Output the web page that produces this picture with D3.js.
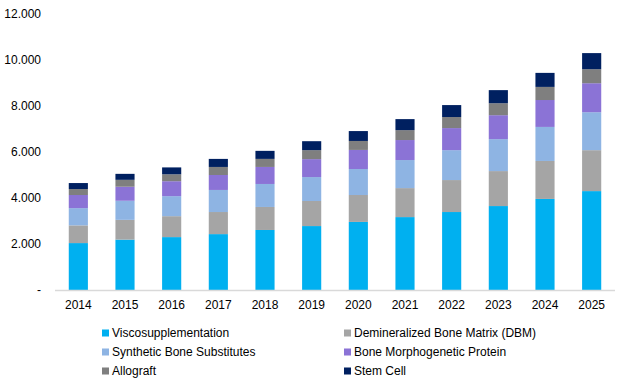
<!DOCTYPE html>
<html>
<head>
<meta charset="utf-8">
<script src="https://cdn.jsdelivr.net/npm/d3@7/dist/d3.min.js"></script>
<style>
  html, body { margin: 0; padding: 0; background: #fff; }
  svg { display: block; font-family: "Liberation Sans", Arial, sans-serif; }
</style>
</head>
<body>
<svg id="chart" width="619" height="380"></svg>
<script>
const years = ["2014","2015","2016","2017","2018","2019","2020","2021","2022","2023","2024","2025"];
const seriesNames = ["Viscosupplementation","Demineralized Bone Matrix (DBM)","Synthetic Bone Substitutes","Bone Morphogenetic Protein","Allograft","Stem Cell"];
const viscosupplementation = [2040,2190,2300,2430,2610,2780,2960,3170,3390,3650,3960,4300];
const dbm                  = [770,860,910,960,1000,1090,1170,1260,1390,1520,1650,1780];
const syntheticBone        = [750,830,870,960,1000,1040,1130,1220,1300,1390,1480,1650];
const bmp                  = [570,610,650,650,740,780,830,870,960,1040,1170,1260];
const allograft            = [260,300,300,350,350,390,390,430,480,520,570,610];
const stemCell             = [260,260,300,350,350,390,430,480,520,570,610,700];
const yTicks = [0,2000,4000,6000,8000,10000,12000];
const yTickLabels = ["-","2.000","4.000","6.000","8.000","10.000","12.000"];
const colors = ["#00b0f0","#a5a5a5","#8eb4e3","#8b73d6","#7f7f7f","#002060"];

const seriesValues = [viscosupplementation, dbm, syntheticBone, bmp, allograft, stemCell];
const table = years.map((y, i) => {
  const row = { year: y };
  seriesNames.forEach((n, k) => row[n] = seriesValues[k][i]);
  return row;
});

const svg = d3.select("#chart");
const x = d3.scaleBand().domain(years).range([55, 615]).paddingInner(0.59).paddingOuter(0.295);
const y = d3.scaleLinear().domain([0, 12000]).range([290, 14]);

const stacked = d3.stack().keys(seriesNames)(table);

// Bars
svg.append("g").selectAll("g").data(stacked).join("g")
  .attr("fill", (d, i) => colors[i])
  .selectAll("rect").data(d => d).join("rect")
  .attr("x", d => x(d.data.year))
  .attr("width", x.bandwidth())
  .attr("y", d => y(d[1]))
  .attr("height", d => y(d[0]) - y(d[1]));

// Baseline
svg.append("line")
  .attr("x1", 55).attr("x2", 615)
  .attr("y1", y(0) + 0.5).attr("y2", y(0) + 0.5)
  .attr("stroke", "#d9d9d9").attr("stroke-width", 1.5);

// Y axis labels
const yAxis = d3.axisLeft(y).tickValues(yTicks)
  .tickFormat((d, i) => yTickLabels[i]).tickSize(0).tickPadding(0);
const yg = svg.append("g").attr("transform", "translate(41,0)").call(yAxis);
yg.select(".domain").remove();
yg.selectAll("text").attr("font-size", 12).attr("fill", "#000")
  .attr("font-family", "Liberation Sans, Arial, sans-serif");

// X axis labels
const xAxis = d3.axisBottom(x).tickSize(0).tickPadding(0);
const xg = svg.append("g").attr("transform", "translate(0,300)").call(xAxis);
xg.select(".domain").remove();
xg.selectAll("text").attr("font-size", 12).attr("fill", "#000")
  .attr("font-family", "Liberation Sans, Arial, sans-serif");

// Legend
const legendPos = [[102,333],[344,333],[102,352],[344,352],[102,371],[344,371]];
const lg = svg.append("g").selectAll("g").data(seriesNames).join("g")
  .attr("transform", (d, i) => `translate(${legendPos[i][0]},${legendPos[i][1]})`);
lg.append("rect").attr("x", 0).attr("y", -3.5).attr("width", 7).attr("height", 7)
  .attr("fill", (d, i) => colors[i]);
lg.append("text").attr("x", 10).attr("y", 0).attr("dy", "0.35em")
  .attr("font-size", 12).attr("fill", "#000")
  .text(d => d);
</script>
</body>
</html>
